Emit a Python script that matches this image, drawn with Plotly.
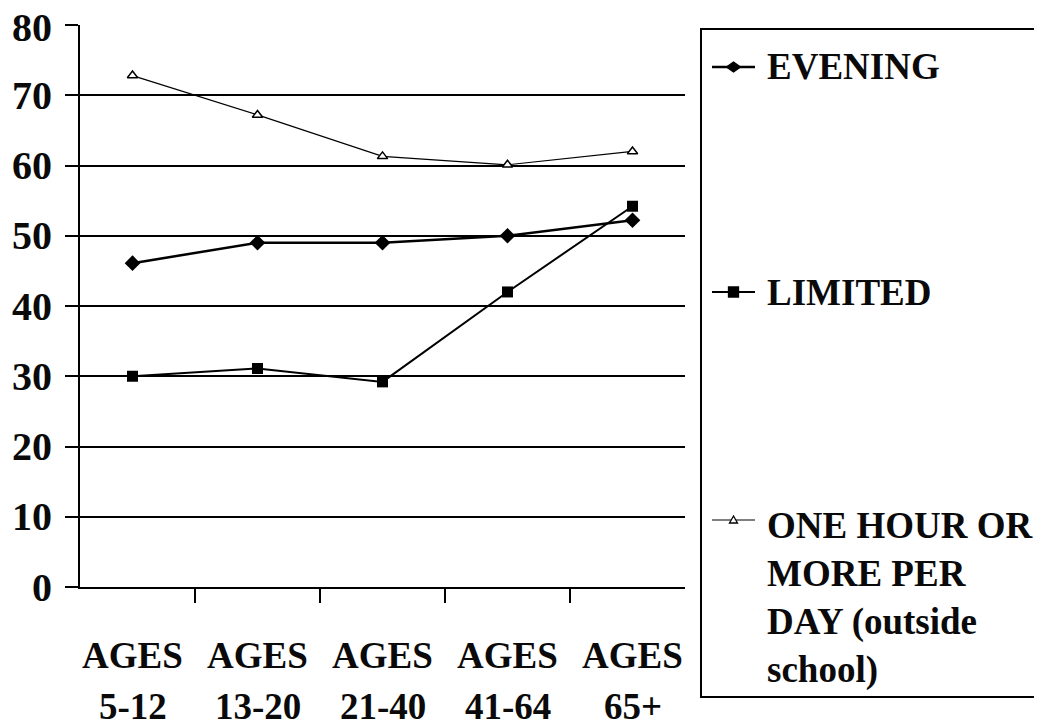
import plotly.graph_objects as go

age_groups = ["5-12", "13-20", "21-40", "41-64", "65+"]
label_prefix = "AGES"
evening = [46.1, 49.0, 49.0, 50.0, 52.2]
limited = [30.0, 31.1, 29.2, 42.0, 54.2]
one_hour = [72.8, 67.2, 61.3, 60.1, 62.0]
series_names = ["EVENING", "LIMITED", "ONE HOUR OR<br>MORE PER<br>DAY (outside<br>school)"]
y_ticks = [0, 10, 20, 30, 40, 50, 60, 70, 80]

FONT = "Liberation Serif, Tinos, Times New Roman, serif"
TXT = "#0a0a0a"
BOLD = lambda s: dict(family=FONT, size=s, color=TXT, weight="bold")

fig = go.Figure()
fig.add_trace(go.Scatter(
    x=age_groups, y=evening, name=series_names[0], mode="lines+markers",
    line=dict(color="black", width=2.5),
    marker=dict(symbol="diamond", size=12, color="black"), showlegend=False))
fig.add_trace(go.Scatter(
    x=age_groups, y=limited, name=series_names[1], mode="lines+markers",
    line=dict(color="black", width=2),
    marker=dict(symbol="square", size=11, color="black"), showlegend=False))
fig.add_trace(go.Scatter(
    x=age_groups, y=one_hour, name=series_names[2], mode="lines+markers",
    line=dict(color="black", width=1.2),
    marker=dict(symbol="triangle-up", size=9, color="white",
                line=dict(color="black", width=1.5)), showlegend=False))

# plot area in figure px (page has 8px body margin)
L, R, T, B = 72, 677, 17, 579
W, H = R - L, B - T
px = lambda x: (x - L) / W
py = lambda y: (B - y) / H

annotations = []
# y tick labels
for v in y_ticks:
    annotations.append(dict(x=0, xref="paper", y=v, yref="y", text=str(v), showarrow=False,
                            xanchor="right", yanchor="middle", xshift=-26,
                            yshift=-2 if v == y_ticks[-1] else 0, font=BOLD(40)))
# x tick labels
for g in age_groups:
    annotations.append(dict(x=g, xref="x", y=0, yref="y", text=label_prefix, showarrow=False,
                            xanchor="center", yanchor="middle", yshift=-68, font=BOLD(37)))
    annotations.append(dict(x=g, xref="x", y=0, yref="y", text=g, showarrow=False,
                            xanchor="center", yanchor="middle", yshift=-119, font=BOLD(37)))

# legend
legend_text_y = [58, 284, 590]
legend_key_y = [59, 284, 512]
text_x = px(757)
for name, ty in zip(series_names, legend_text_y):
    annotations.append(dict(x=text_x, xref="paper", y=py(ty), yref="paper", text=name,
                            showarrow=False, xanchor="left", yanchor="middle", align="left",
                            font=BOLD(37)))

shapes = [dict(type="rect", xref="paper", yref="paper",
               x0=px(693), x1=px(1031), y0=py(689), y1=py(21),
               line=dict(color="black", width=2), fillcolor="rgba(0,0,0,0)")]
key_paths = [
    "M -7 0 L 0 5 L 7 0 L 0 -5 Z",
    "M -5 -5 L 5 -5 L 5 5 L -5 5 Z",
    "M -4 -3 L 4 -3 L 0 4 Z",
]
key_fill = ["black", "black", "white"]
key_width = [2.5, 2, 1.2]
for ky, path, fc, lw in zip(legend_key_y, key_paths, key_fill, key_width):
    shapes.append(dict(type="line", xref="paper", yref="paper",
                       x0=px(704), x1=px(747), y0=py(ky), y1=py(ky),
                       line=dict(color="black", width=lw)))
    shapes.append(dict(type="path", xref="paper", yref="paper",
                       xsizemode="pixel", ysizemode="pixel",
                       xanchor=px(725.5), yanchor=py(ky), path=path,
                       fillcolor=fc, line=dict(color="black", width=1.3)))

fig.update_layout(
    width=1042, height=728,
    margin=dict(l=L, r=1042 - R, t=T, b=728 - B, autoexpand=False),
    paper_bgcolor="white", plot_bgcolor="white",
    font=dict(family=FONT, color=TXT, size=38),
    showlegend=False,
    annotations=annotations,
    shapes=shapes,
)
fig.update_xaxes(
    type="category", showgrid=False, showline=True, linecolor="black", linewidth=2,
    ticks="outside", tickson="boundaries", ticklen=14, tickwidth=2, tickcolor="black",
    showticklabels=False, automargin=False,
)
fig.update_yaxes(
    range=[0, 80], tickvals=y_ticks, showgrid=True, gridcolor="black", gridwidth=2,
    showline=True, linecolor="black", linewidth=2,
    ticks="outside", ticklen=13, tickwidth=2, tickcolor="black",
    showticklabels=False, zeroline=False, automargin=False,
)

fig.write_html("out.html")
